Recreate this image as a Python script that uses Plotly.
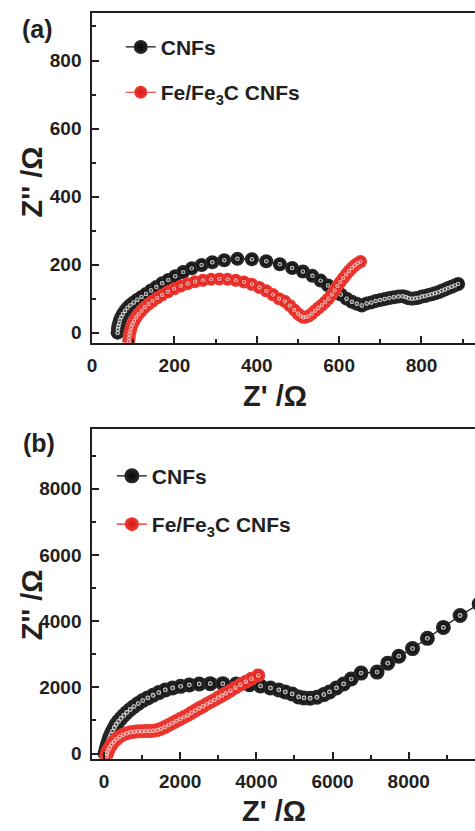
import plotly.graph_objects as go

# ---------------- data ----------------
# Panel (a)
a_cnf_x = [62, 63, 64, 66, 68, 71, 75, 80, 86, 93, 101, 110, 120, 131, 143, 156, 170, 185, 202, 221,
           242, 266, 292, 321, 353, 388, 423, 456, 486, 512, 535, 555, 573, 589, 604, 618, 631, 643, 655, 667,
           678, 689, 700, 711, 722, 733, 744, 754, 762, 769, 777, 785, 793, 801, 809, 817, 825, 833, 841, 849,
           857, 865, 873, 881, 889]
a_cnf_y = [0, 10, 19, 28, 37, 46, 55, 64, 73, 81, 89, 97, 105, 114, 124, 134, 145, 155, 166, 178,
           189, 199, 207, 213, 217, 216, 210, 201, 190, 180, 167, 153, 139, 125, 112, 100, 91, 85, 80, 86,
           89, 93, 96, 99, 102, 104, 106, 107, 105, 101, 100, 101, 103, 106, 108, 111, 113, 116, 119, 123,
           127, 131, 135, 139, 143]

a_fe_x = [89, 90, 91, 93, 95, 98, 102, 107, 113, 120, 128, 137, 147, 158, 170, 184, 199, 215, 232, 250,
          269, 289, 309, 329, 349, 369, 388, 406, 423, 439, 454, 468, 480, 491, 500, 507, 513, 519, 526, 534,
          542, 550, 558, 566, 574, 582, 589, 596, 603, 610, 617, 624, 631, 638, 645, 652]
a_fe_y = [-25, -15, -5, 5, 15, 25, 35, 45, 55, 65, 75, 84, 93, 102, 111, 120, 129, 137, 144, 150,
          154, 157, 158, 157, 154, 149, 142, 133, 123, 112, 100, 92, 80, 67, 56, 49, 45, 46, 49, 56,
          65, 73, 81, 90, 100, 112, 124, 137, 149, 160, 171, 181, 190, 198, 204, 209]

# Panel (b)
b_cnf_x = [30, 50, 70, 95, 120, 150, 185, 225, 270, 320, 380, 445, 520, 600, 690, 790, 900, 1020, 1150, 1290,
           1440, 1610, 1800, 2010, 2240, 2500, 2790, 3120, 3470, 3820, 4110, 4370, 4590, 4760, 4940, 5110, 5250,
           5410, 5590, 5770, 5920, 6100, 6290, 6490, 6750, 7170, 7450, 7740, 8100, 8490, 8910, 9350, 9850]
b_cnf_y = [0, 100, 190, 290, 380, 480, 580, 680, 780, 880, 970, 1060, 1150, 1240, 1330, 1420, 1510, 1600, 1680, 1760,
           1840, 1920, 1980, 2030, 2070, 2100, 2110, 2110, 2100, 2080, 2040, 1980, 1920, 1860, 1800, 1710, 1680,
           1670, 1700, 1780, 1860, 1980, 2100, 2250, 2430, 2460, 2730, 2940, 3170, 3480, 3810, 4170, 4520]

b_fe_x = [60, 80, 110, 150, 200, 260, 330, 410, 500, 600, 700, 800, 900, 1000, 1100, 1200, 1300, 1400, 1500, 1600,
          1700, 1800, 1900, 2000, 2100, 2200, 2300, 2400, 2500, 2600, 2700, 2800, 2900, 3000, 3100, 3200, 3320,
          3450, 3580, 3720, 3870, 4050]
b_fe_y = [-80, 0, 90, 180, 270, 360, 440, 510, 570, 610, 640, 660, 670, 675, 680, 680, 690, 710, 750, 800,
          860, 920, 980, 1040, 1100, 1160, 1230, 1300, 1370, 1430, 1500, 1560, 1620, 1690, 1750, 1820, 1900,
          1990, 2080, 2170, 2260, 2360]

name_cnf = "CNFs"
name_fe = "Fe/Fe<sub>3</sub>C CNFs"

FONT = "Liberation Sans, Arial, Helvetica, sans-serif"
AXC = "#231f20"

fig = go.Figure()


def add_series(x, y, xa, ya, name, legend, body, edge, hl, linec, size):
    fig.add_trace(go.Scatter(
        x=x, y=y, xaxis=xa, yaxis=ya, mode="lines+markers", name=name, legend=legend,
        line=dict(color=linec, width=1.2),
        marker=dict(size=size, color=body, line=dict(width=0),
                    gradient=dict(type="radial", color=edge)),
        hoverinfo="skip"))
    fig.add_trace(go.Scatter(
        x=x, y=y, xaxis=xa, yaxis=ya, mode="markers", showlegend=False,
        marker=dict(size=size * 0.32, color=hl, line=dict(width=0),
                    gradient=dict(type="radial", color="rgba(200,200,200,0)")),
        hoverinfo="skip"))


add_series(a_cnf_x, a_cnf_y, "x", "y", name_cnf, "legend", "#2a2a2a", "#050505", "#ffffff", "#111111", 14)
add_series(a_fe_x, a_fe_y, "x", "y", name_fe, "legend", "#f03a32", "#d41a16", "#ffe0dc", "#e8231f", 13)
add_series(b_cnf_x, b_cnf_y, "x2", "y2", name_cnf, "legend2", "#2a2a2a", "#050505", "#ffffff", "#111111", 15)
add_series(b_fe_x, b_fe_y, "x2", "y2", name_fe, "legend2", "#f03a32", "#d41a16", "#ffe0dc", "#e8231f", 14)

tickfont = dict(family=FONT, size=19, color="#231f20", weight="bold")


def ax(rng, dtick, minor, domain, anchor, mirror):
    return dict(range=rng, domain=domain, anchor=anchor, dtick=dtick, tick0=0, tickformat="d",
                showline=True, linecolor=AXC, linewidth=1.6, mirror=mirror,
                ticks="inside", ticklen=7, tickwidth=1.5, tickcolor=AXC,
                minor=dict(ticks="inside", ticklen=4, tickwidth=1.5, tickcolor=AXC, dtick=minor),
                showgrid=False, zeroline=False, tickfont=tickfont, ticklabelstandoff=5)


xdom = [88 / 475, 1.0]
fig.update_layout(
    width=475, height=831, margin=dict(l=0, r=0, t=0, b=0),
    paper_bgcolor="white", plot_bgcolor="white",
    xaxis=ax([0, 930], 200, 100, xdom, "y", True),
    yaxis=ax([-29, 940], 200, 100, [0.5848, 0.9844], "x", False),
    xaxis2=ax([-312, 9740], 2000, 1000, xdom, "y2", True),
    yaxis2=ax([-150, 9805], 2000, 1000, [0.0806, 0.4801], "x2", False),
    legend=dict(x=117 / 475, y=1 - 27 / 831, xanchor="left", yanchor="top",
                font=dict(family=FONT, size=21, color="#231f20", weight="bold"),
                bgcolor="rgba(0,0,0,0)", tracegroupgap=15, itemsizing="trace"),
    legend2=dict(x=108 / 475, y=1 - 459 / 831, xanchor="left", yanchor="top",
                 font=dict(family=FONT, size=21, color="#231f20", weight="bold"),
                 bgcolor="rgba(0,0,0,0)", tracegroupgap=18, itemsizing="trace"),
    showlegend=True,
)

# separate groups so the gap between entries matches
for i, tr in enumerate(fig.data):
    tr.legendgroup = "g%d" % (i // 2)

annos = [
    dict(text="(a)", x=33 / 475, y=1 - 29 / 831, size=25, angle=0),
    dict(text="(b)", x=34 / 475, y=1 - 446 / 831, size=25, angle=0),
    dict(text="Z' /Ω", x=273 / 475, y=1 - 399 / 831, size=29, angle=0),
    dict(text="Z' /Ω", x=272 / 475, y=1 - 817 / 831, size=29, angle=0),
    dict(text="Z'' /Ω", x=27 / 475, y=1 - 183 / 831, size=29, angle=-90),
    dict(text="Z'' /Ω", x=27 / 475, y=1 - 609 / 831, size=29, angle=-90),
]
for a in annos:
    fig.add_annotation(text=a["text"], x=a["x"], y=a["y"], xref="paper", yref="paper",
                       xanchor="center", yanchor="middle", showarrow=False, textangle=a["angle"],
                       font=dict(family=FONT, size=a["size"], color="#231f20", weight="bold"))

fig.write_html("out.html")
